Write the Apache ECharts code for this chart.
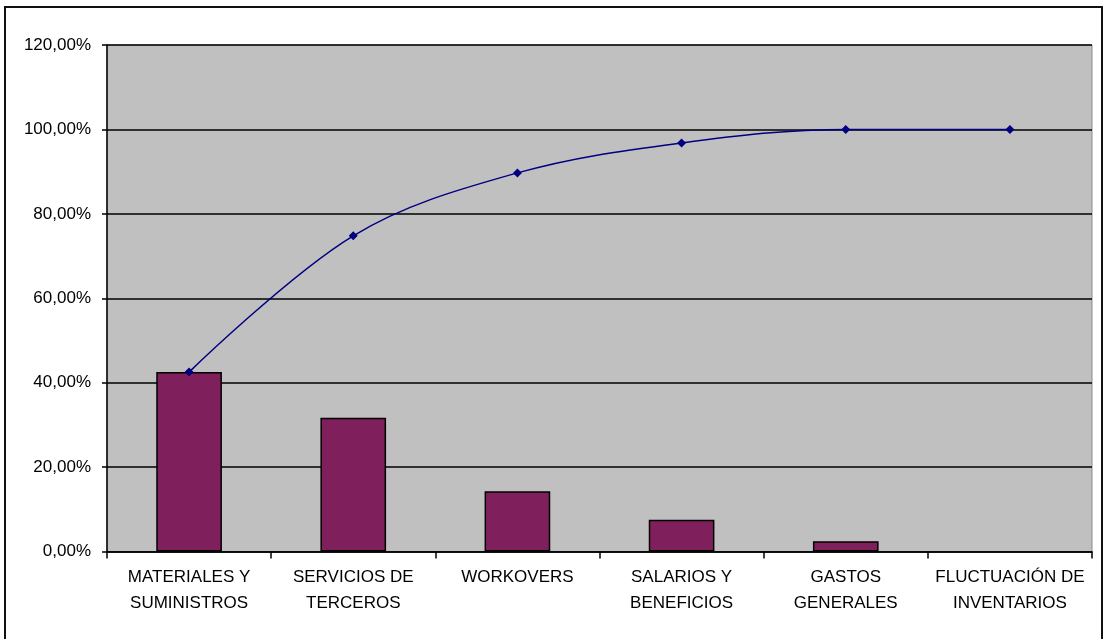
<!DOCTYPE html>
<html>
<head>
<meta charset="utf-8">
<script src="https://cdn.jsdelivr.net/npm/echarts@6/dist/echarts.min.js"></script>
<style>
  html, body { margin: 0; padding: 0; background: #fff; }
  #chart { width: 1106px; height: 639px; }
</style>
</head>
<body>
<div id="chart"></div>
<script>
// Cost categories (Pareto order)
const categories = [
  'MATERIALES Y\nSUMINISTROS',
  'SERVICIOS DE\nTERCEROS',
  'WORKOVERS',
  'SALARIOS Y\nBENEFICIOS',
  'GASTOS\nGENERALES',
  'FLUCTUACIÓN DE\nINVENTARIOS'
];
// Share of each category (%)
const shareValues = [42.5, 31.7, 14.3, 7.5, 2.4, 0];
// Cumulative share (%)
const cumulativeValues = [42.5, 74.8, 89.7, 96.8, 100, 100];
// Y axis range (%)
const yMin = 0, yMax = 120, yStep = 20;

const chart = echarts.init(document.getElementById('chart'));
const fontFamily = '"Liberation Sans", Arial, sans-serif';

// Empty categories get no outline so no flat line is drawn on the axis
const barData = shareValues.map(v => ({
  value: v,
  itemStyle: v === 0 ? { borderWidth: 0, opacity: 0 } : undefined
}));

chart.setOption({
  animation: false,
  backgroundColor: '#ffffff',
  graphic: [{
    type: 'rect',
    shape: { x: 5, y: 7, width: 1097, height: 650 },
    style: { fill: 'none', stroke: '#111', lineWidth: 2 },
    silent: true
  }],
  grid: {
    left: 107, top: 45, right: 14, bottom: 87.5,
    show: true,
    backgroundColor: '#C0C0C0',
    borderColor: '#8c8c8c',
    borderWidth: 1
  },
  xAxis: {
    type: 'category',
    data: categories,
    boundaryGap: true,
    axisLine: { lineStyle: { color: '#000', width: 1.5 } },
    axisTick: { show: true, length: 7, lineStyle: { color: '#000', width: 1.5 } },
    axisLabel: {
      color: '#000', fontFamily, fontSize: 17, lineHeight: 26, margin: 13,
      interval: 0
    },
    splitLine: { show: false }
  },
  yAxis: {
    type: 'value',
    min: yMin, max: yMax, interval: yStep,
    axisLine: { show: true, lineStyle: { color: '#000', width: 1.5 } },
    axisTick: { show: true, length: 5, lineStyle: { color: '#000', width: 1.5 } },
    axisLabel: {
      color: '#000', fontFamily, fontSize: 17, margin: 16,
      formatter: v => v.toFixed(2).replace('.', ',') + '%'
    },
    splitLine: { show: true, lineStyle: { color: '#000', width: 1.5 } }
  },
  series: [
    {
      type: 'bar',
      data: barData,
      barWidth: '40%',
      itemStyle: { color: '#7F1F5B', borderColor: '#000', borderWidth: 1.5 },
      z: 2
    },
    {
      type: 'line',
      data: cumulativeValues,
      smooth: 0.35,
      symbol: 'diamond',
      symbolSize: 9,
      lineStyle: { color: '#000080', width: 1.5 },
      itemStyle: { color: '#000080' },
      z: 3
    }
  ]
});
</script>
</body>
</html>
